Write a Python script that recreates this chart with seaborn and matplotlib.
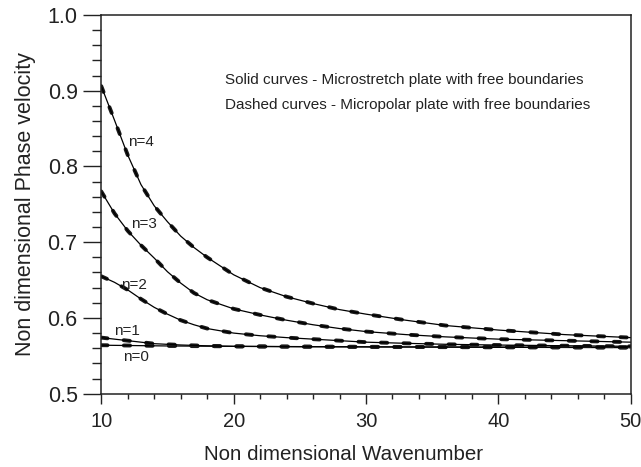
import matplotlib
matplotlib.use("Agg")
import matplotlib.pyplot as plt
from matplotlib.ticker import MultipleLocator
import seaborn as sns
import pandas as pd

# Non-dimensional wavenumber samples for each mode
k_n4 = [10, 11, 12, 13, 14, 15, 16, 17, 18, 20, 22, 24, 26, 28, 30, 33, 36, 40, 45, 50]
c_n4 = [0.906, 0.861, 0.815, 0.776, 0.748, 0.727, 0.708, 0.693, 0.680, 0.657, 0.640, 0.628,
        0.619, 0.611, 0.605, 0.597, 0.590, 0.584, 0.578, 0.574]

k_n3 = [10, 11, 12, 13, 14, 15, 16, 17, 18, 20, 22, 24, 26, 28, 30, 33, 36, 40, 45, 50]
c_n3 = [0.767, 0.738, 0.715, 0.696, 0.679, 0.661, 0.646, 0.633, 0.624, 0.612, 0.604, 0.597,
        0.591, 0.586, 0.582, 0.578, 0.575, 0.572, 0.570, 0.568]

k_n2 = [10, 11, 12, 13, 14, 15, 16, 17, 18, 20, 22, 24, 26, 28, 30, 33, 36, 40, 45, 50]
c_n2 = [0.655, 0.647, 0.637, 0.625, 0.614, 0.605, 0.597, 0.591, 0.586, 0.580, 0.5765, 0.574,
        0.572, 0.570, 0.568, 0.5665, 0.5652, 0.5642, 0.5633, 0.5625]

k_n1 = [10, 12, 14, 16, 18, 20, 25, 30, 40, 50]
c_n1 = [0.574, 0.570, 0.566, 0.5643, 0.5632, 0.5625, 0.5620, 0.5618, 0.5615, 0.5612]

k_n0 = [10, 15, 20, 30, 40, 50]
c_n0 = [0.5640, 0.5630, 0.5625, 0.5618, 0.5612, 0.5608]

mode_names = ["n=0", "n=1", "n=2", "n=3", "n=4"]
mode_k = [k_n0, k_n1, k_n2, k_n3, k_n4]

# Microstretch plate (solid) and micropolar plate (dashed) share the same dispersion values
microstretch = [c_n0, c_n1, c_n2, c_n3, c_n4]
micropolar = [list(c) for c in microstretch]

# Label anchors (data coordinates) for each mode
label_x = [11.65, 11.0, 11.5, 12.25, 12.0]
label_y = [0.548, 0.583, 0.643, 0.724, 0.832]

note_lines = ["Solid curves - Microstretch plate with free boundaries",
              "Dashed curves - Micropolar plate with free boundaries"]

sns.set_style("ticks")
plt.rcParams["font.family"] = ["Liberation Sans", "DejaVu Sans"]

fig = plt.figure(figsize=(6.41, 4.67), dpi=100)
ax = fig.add_axes([0.158, 0.157, 0.826, 0.811])

for name, ks, cs, cp in zip(mode_names, mode_k, microstretch, micropolar):
    df = pd.DataFrame({"k": ks, "solid": cs, "dashed": cp})
    sns.lineplot(data=df, x="k", y="dashed", ax=ax, color="#1a1a1a", lw=2.8,
                 linestyle=(0, (1.6, 4.2)), estimator=None, sort=True)
    ax.lines[-1].set_dash_capstyle("round")
    sns.lineplot(data=df, x="k", y="solid", ax=ax, color="black", lw=0.9,
                 estimator=None, sort=True)

for name, lx, ly in zip(mode_names, label_x, label_y):
    ax.text(lx, ly, name, fontsize=11, ha="left", va="center", color="#222222")

ax.text(19.35, 0.914, note_lines[0], fontsize=11, ha="left", va="center", color="#222222")
ax.text(19.35, 0.881, note_lines[1], fontsize=11, ha="left", va="center", color="#222222")

ax.set_xlim(10, 50)
ax.set_ylim(0.5, 1.0)
ax.xaxis.set_major_locator(MultipleLocator(10))
ax.xaxis.set_minor_locator(MultipleLocator(2))
ax.yaxis.set_major_locator(MultipleLocator(0.1))
ax.yaxis.set_minor_locator(MultipleLocator(0.02))
ax.set_yticklabels([f"{v:.1f}" for v in ax.get_yticks()])

ax.tick_params(axis="x", which="major", direction="out", length=7.5, width=1.0,
               pad=6, labelsize=14.5, colors="#222222")
ax.tick_params(axis="x", which="minor", direction="out", length=3.8, width=1.0,
               colors="#222222")
ax.tick_params(axis="y", which="major", direction="out", length=13, width=1.0,
               pad=4, labelsize=15.5, colors="#222222")
ax.tick_params(axis="y", which="minor", direction="out", length=6.5, width=1.0,
               colors="#222222")

for side in ["left", "bottom", "top", "right"]:
    ax.spines[side].set_visible(True)
    ax.spines[side].set_linewidth(1.1)
    ax.spines[side].set_color("#222222")

ax.set_xlabel("Non dimensional Wavenumber", fontsize=14.8, color="#222222")
ax.xaxis.set_label_coords(0.457, -0.135)
ax.set_ylabel("Non dimensional Phase velocity", fontsize=15.5, color="#222222", labelpad=8)

fig.savefig("out.png", dpi=100, facecolor="white")
